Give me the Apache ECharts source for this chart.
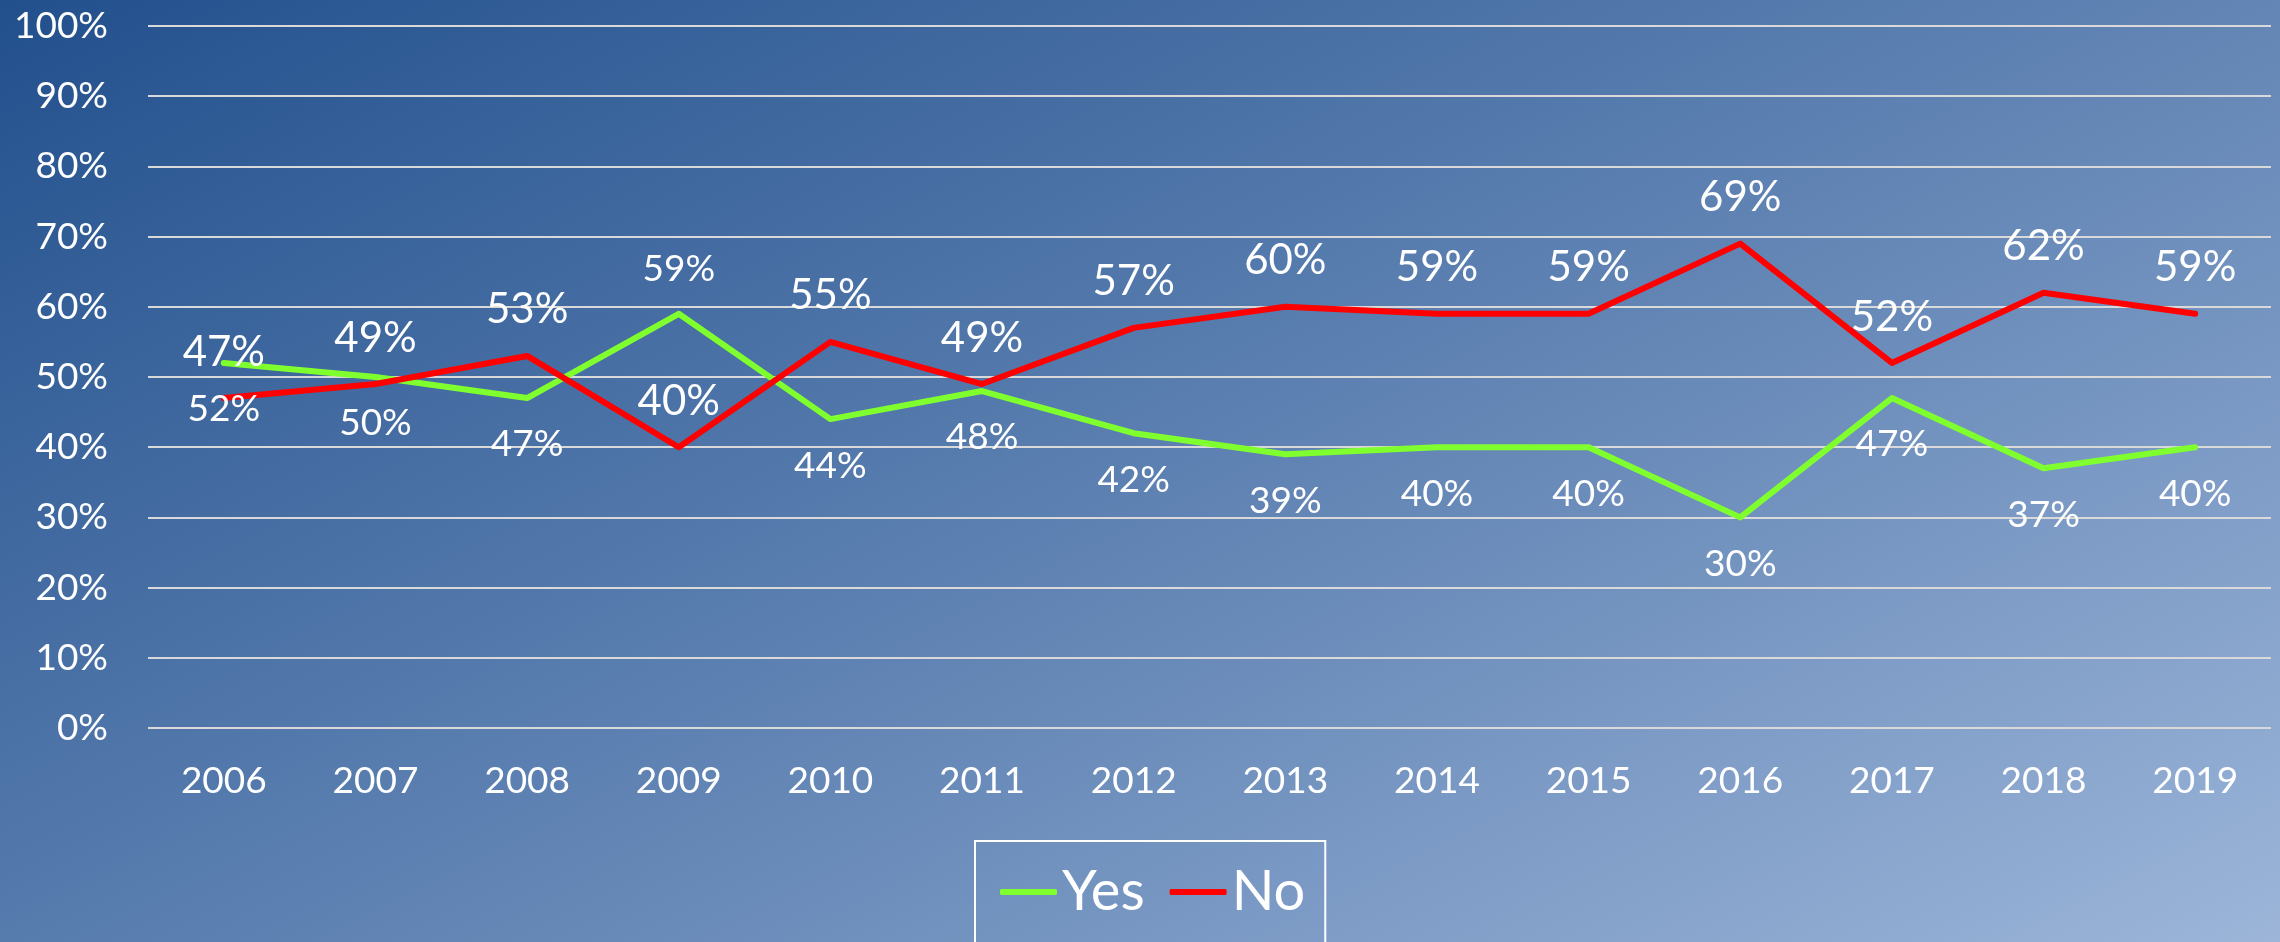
<!DOCTYPE html>
<html>
<head>
<meta charset="utf-8">
<title>Yes / No</title>
<script src="https://cdn.jsdelivr.net/npm/echarts@6/dist/echarts.min.js"></script>
<style>
  html, body { margin: 0; padding: 0; }
  #chart { width: 2280px; height: 942px; }
</style>
</head>
<body>
<div id="chart"></div>
<script>
// data
var years = ['2006', '2007', '2008', '2009', '2010', '2011', '2012', '2013', '2014', '2015', '2016', '2017', '2018', '2019'];
var yesValues = [52, 50, 47, 59, 44, 48, 42, 39, 40, 40, 30, 47, 37, 40];
var noValues = [47, 49, 53, 40, 55, 49, 57, 60, 59, 59, 69, 52, 62, 59];
var seriesNames = ['Yes', 'No'];
// y axis ticks: 0% .. 100% every 10
var yMin = 0, yMax = 100, yStep = 10;
// the one green label that sits above its point
var yesLabelAbove = ['2009'];

var font = 'Lato';

// green labels go below the line, except the listed years
var yesData = yesValues.map(function (v, i) {
  if (yesLabelAbove.indexOf(years[i]) >= 0) {
    return { value: v, label: { position: 'top', distance: 25 } };
  }
  return v;
});

var chart = echarts.init(document.getElementById('chart'));
chart.setOption({
  backgroundColor: {
    type: 'linear', x: 0, y: 0, x2: 851, y2: 1670, global: true,
    colorStops: [
      { offset: 0, color: '#22508D' },
      { offset: 0.5, color: '#5C80B1' },
      { offset: 1, color: '#9CB5D9' }
    ]
  },
  animation: false,
  grid: { left: 148, right: 9, top: 26, bottom: 214 },
  legend: {
    data: seriesNames,
    left: 975,
    top: 841,
    padding: [21, 20, 60, 25],
    borderColor: '#ffffff',
    borderWidth: 2,
    itemGap: 25,
    itemWidth: 57,
    itemHeight: 6,
    icon: 'roundRect',
    textStyle: { color: '#ffffff', fontSize: 56, lineHeight: 60, fontFamily: font }
  },
  xAxis: {
    type: 'category',
    data: years,
    boundaryGap: true,
    axisLine: { show: false },
    axisTick: { show: false },
    axisLabel: { color: '#ffffff', fontSize: 37, fontFamily: font, margin: 35 }
  },
  yAxis: {
    type: 'value',
    min: yMin,
    max: yMax,
    interval: yStep,
    axisLine: { show: false },
    axisTick: { show: false },
    axisLabel: { color: '#ffffff', fontSize: 37, fontFamily: font, margin: 40, formatter: '{value}%' },
    splitLine: { lineStyle: { color: '#D9D9D9', width: 2 } }
  },
  series: [
    {
      name: 'Yes',
      type: 'line',
      data: yesData,
      symbol: 'circle',
      symbolSize: 2,
      itemStyle: { color: '#80FF2E' },
      lineStyle: { color: '#80FF2E', width: 6, cap: 'round', join: 'round' },
      label: {
        show: true, position: 'bottom', distance: 27, formatter: '{c}%',
        color: '#ffffff', fontSize: 37, fontFamily: font, textBorderWidth: 0
      }
    },
    {
      name: 'No',
      type: 'line',
      data: noValues,
      symbol: 'circle',
      symbolSize: 2,
      itemStyle: { color: '#FF0000' },
      lineStyle: { color: '#FF0000', width: 6, cap: 'round', join: 'round' },
      label: {
        show: true, position: 'top', distance: 24, formatter: '{c}%',
        color: '#ffffff', fontSize: 42, fontFamily: font, textBorderWidth: 0
      }
    }
  ]
});
</script>
</body>
</html>
